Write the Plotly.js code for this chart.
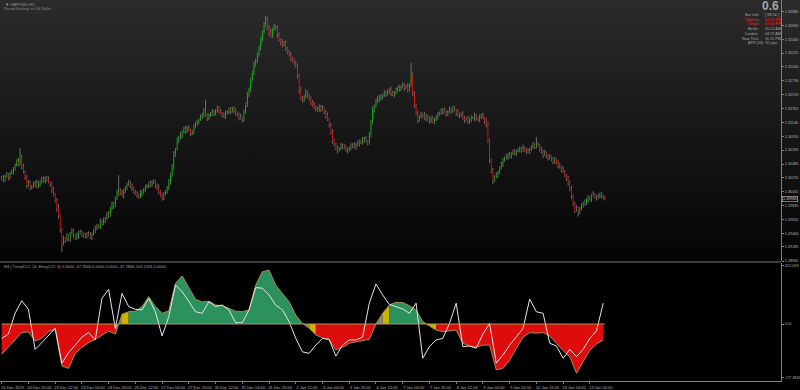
<!DOCTYPE html>
<html><head><meta charset="utf-8">
<script src="https://cdn.plot.ly/plotly-3.0.1.min.js"></script>
<style>html,body{margin:0;padding:0;background:#000;}#chart{width:800px;height:390px;}</style>
</head><body><div id="chart"></div>
<script>
// ---------- DATA ----------
const symbolTitle = '\u25BC GBPUSD,H1';
const symbolDesc = 'Pound Sterling vs US Dollar';
const indicatorTitle = 'H4 ( TrendCCI: 14, EntryCCI: 6) 0.0000 -47.7846 0.0000 0.0000 -47.7846 103.1533 0.0000';
const spreadText = '0.6';
const infoLabels = ['Bar Left:', '* Sydney:', '* Tokyo:', 'Berlin:', 'London:', 'New York:'];
const infoValues = ['[ 38:54 ]', '03:21 PM', '01:21 PM', '05:21 AM', '04:21 AM', '11:21 PM'];
const infoRed = [false, true, true, false, false, false];
const atrText = 'ATR (20): 32 pips';

const timeLabels = ['20 Dec 2019','20 Dec 20:00','23 Dec 12:00','24 Dec 04:00','24 Dec 20:00','26 Dec 12:00',
  '27 Dec 04:00','27 Dec 20:00','30 Dec 12:00','31 Dec 04:00','31 Dec 20:00','2 Jan 12:00','3 Jan 04:00',
  '3 Jan 20:00','6 Jan 12:00','7 Jan 04:00','7 Jan 20:00','8 Jan 12:00','9 Jan 04:00','9 Jan 20:00',
  '10 Jan 12:00','13 Jan 04:00','13 Jan 20:00'];
const barsPerLabel = 16;
const priceTickLabels = ['1.32880','1.32660','1.32440','1.32225','1.32010','1.31790','1.31570','1.31355',
  '1.31140','1.30920','1.30705','1.30485','1.30270','1.30050','1.29835','1.29620','1.29400','1.29185','1.28965'];
const cciTickLabels = ['202.5309', '0.00', '-277.3834'];

// H1 candles: close prices, first open, wick lengths in pips
const firstOpen = 1.3025;
const closes = [
1.3027,1.3024,1.3030,1.3031,1.3028,1.3034,1.3036,1.3041,1.3047,1.3052,
1.3049,1.3060,1.3045,1.3036,1.3028,1.3016,1.3019,1.3011,1.3014,1.3017,
1.3019,1.3013,1.3018,1.3021,1.3025,1.3022,1.3027,1.3024,1.3020,1.3017,
1.3008,1.3001,1.2992,1.2980,1.2968,1.2945,1.2924,1.2932,1.2929,1.2935,
1.2931,1.2940,1.2944,1.2937,1.2932,1.2936,1.2941,1.2942,1.2938,1.2935,
1.2936,1.2940,1.2937,1.2934,1.2939,1.2944,1.2948,1.2952,1.2950,1.2958,
1.2955,1.2961,1.2964,1.2970,1.2968,1.2980,1.2986,1.2983,1.2995,1.3002,
1.3008,1.3003,1.3000,1.3006,1.3012,1.3016,1.3019,1.3014,1.3011,1.3005,
1.3002,1.3000,1.2997,1.3003,1.3005,1.3009,1.3012,1.3014,1.3018,1.3016,
1.3019,1.3021,1.3015,1.3011,1.3006,1.2999,1.2995,1.3001,1.3006,1.3011,
1.3020,1.3031,1.3045,1.3063,1.3072,1.3086,1.3090,1.3094,1.3099,1.3103,
1.3100,1.3105,1.3102,1.3097,1.3099,1.3106,1.3111,1.3115,1.3118,1.3122,
1.3126,1.3131,1.3125,1.3121,1.3124,1.3128,1.3130,1.3127,1.3133,1.3136,
1.3131,1.3128,1.3126,1.3124,1.3128,1.3130,1.3134,1.3131,1.3136,1.3132,
1.3129,1.3126,1.3122,1.3120,1.3118,1.3130,1.3142,1.3157,1.3166,1.3180,
1.3192,1.3204,1.3212,1.3219,1.3231,1.3243,1.3255,1.3267,1.3274,1.3262,
1.3255,1.3250,1.3259,1.3264,1.3262,1.3252,1.3243,1.3239,1.3235,1.3238,
1.3230,1.3224,1.3219,1.3215,1.3211,1.3206,1.3203,1.3188,1.3165,1.3152,
1.3149,1.3153,1.3160,1.3157,1.3151,1.3146,1.3141,1.3138,1.3135,1.3133,
1.3138,1.3134,1.3136,1.3130,1.3125,1.3118,1.3110,1.3098,1.3086,1.3079,
1.3074,1.3070,1.3073,1.3076,1.3078,1.3074,1.3071,1.3070,1.3074,1.3077,
1.3078,1.3075,1.3079,1.3081,1.3084,1.3082,1.3086,1.3088,1.3084,1.3081,
1.3095,1.3115,1.3134,1.3140,1.3147,1.3152,1.3150,1.3155,1.3157,1.3160,
1.3158,1.3162,1.3165,1.3160,1.3157,1.3161,1.3164,1.3168,1.3166,1.3170,
1.3172,1.3168,1.3170,1.3165,1.3172,1.3188,1.3160,1.3141,1.3128,1.3118,
1.3122,1.3125,1.3126,1.3121,1.3124,1.3118,1.3116,1.3120,1.3115,1.3119,
1.3122,1.3126,1.3129,1.3131,1.3133,1.3130,1.3127,1.3130,1.3134,1.3132,
1.3136,1.3133,1.3129,1.3126,1.3124,1.3127,1.3121,1.3118,1.3120,1.3115,
1.3118,1.3121,1.3121,1.3124,1.3120,1.3118,1.3122,1.3124,1.3121,1.3116,
1.3110,1.3085,1.3055,1.3038,1.3023,1.3028,1.3031,1.3036,1.3042,1.3048,
1.3055,1.3058,1.3060,1.3063,1.3061,1.3065,1.3068,1.3066,1.3069,1.3070,
1.3072,1.3070,1.3074,1.3071,1.3069,1.3068,1.3072,1.3075,1.3078,1.3076,
1.3080,1.3078,1.3072,1.3068,1.3063,1.3066,1.3061,1.3058,1.3060,1.3056,
1.3052,1.3055,1.3050,1.3047,1.3044,1.3040,1.3036,1.3031,1.3026,1.3020,
1.3010,1.2999,1.2986,1.2976,1.2979,1.2973,1.2978,1.2984,1.2988,1.2986,
1.2992,1.2996,1.2994,1.2999,1.3001,1.2997,1.2995,1.2998,1.3002,1.2999,1.2996,1.29935];
const upperWickPips = [
3,4,2,5,3,2,4,3,2,4, 6,14,3,4,2,3,5,3,2,4, 3,5,4,2,3,4,2,3,5,2, 3,4,2,3,5,2,3,4,2,5,
3,2,4,3,2,5,3,4,2,3, 4,2,3,5,2,3,4,3,2,5, 3,4,2,3,5,2,4,3,2,6, 23,3,5,4,2,3,5,3,4,2,
3,4,2,5,3,2,4,3,2,5, 3,4,2,3,5,2,3,4,2,3, 5,4,3,6,2,4,3,5,2,4, 5,3,4,2,3,5,4,3,2,4,
3,5,18,3,4,2,5,3,2,4, 3,4,2,3,5,2,3,4,2,3, 4,2,3,5,2,4,3,5,2,4, 3,5,2,4,3,5,3,4,7,5,
4,6,3,5,2,4,3,2,5,3, 4,2,3,5,2,3,4,3,2,5, 3,4,6,3,2,4,3,5,2,3, 4,3,5,2,3,4,2,3,5,2,
3,4,2,5,3,2,4,3,2,4, 3,5,2,4,3,2,5,3,4,2, 4,3,5,2,4,3,5,3,2,4, 3,4,2,5,3,2,4,3,5,2,
4,3,2,5,3,19,4,3,2,4, 3,5,2,4,3,2,5,3,4,2, 3,4,2,5,3,4,2,3,5,2, 4,3,2,5,3,2,4,3,2,4,
3,4,2,5,3,2,4,3,5,2, 4,5,3,2,4,3,5,2,3,4, 3,2,4,3,5,2,3,4,2,3, 4,3,5,2,3,4,2,3,5,3,
11,3,2,4,3,5,2,3,4,2, 3,5,2,4,3,2,5,3,2,4, 3,4,2,3,5,2,4,3,2,5, 3,4,2,3,5,2,3,4,2,3,2,3];
const lowerWickPips = [
2,4,3,2,5,3,2,4,3,2, 4,3,5,2,4,6,3,4,2,3, 4,3,2,5,3,2,4,3,2,4, 5,3,4,6,5,4,13,3,4,2,
3,5,2,4,3,2,5,3,4,2, 3,4,2,3,5,2,4,3,2,4, 3,2,5,3,4,2,3,5,2,3, 4,3,2,5,3,4,2,3,5,3,
2,4,3,2,5,3,4,2,3,4, 3,2,4,3,5,2,4,3,2,4, 3,4,2,5,3,2,4,3,5,2, 4,3,2,5,3,4,2,3,4,2,
3,4,2,5,3,2,4,3,2,4, 3,2,4,3,5,2,3,4,2,3, 4,3,5,2,4,3,2,4,3,5, 2,4,3,5,2,4,3,2,4,3,
5,3,4,2,3,5,2,4,3,2, 4,3,2,5,3,2,4,5,6,3, 4,3,2,4,3,5,2,3,4,2, 3,4,2,3,5,2,4,3,6,3,
4,5,2,3,4,2,3,5,2,4, 3,2,4,3,5,2,3,4,2,3, 2,4,3,5,2,3,4,2,5,3, 4,2,3,5,2,4,3,2,4,3,
3,5,2,4,3,2,5,4,3,5, 3,2,4,3,5,2,4,3,2,4, 3,4,2,3,5,2,4,3,2,4, 3,2,5,3,4,2,3,5,2,4,
3,4,2,5,3,2,4,3,2,5, 4,3,5,4,6,3,2,4,3,2, 4,3,2,5,3,4,2,3,5,2, 3,4,2,3,5,2,4,3,2,4,
3,2,4,3,5,2,3,4,2,3, 4,3,2,5,3,4,2,3,4,5, 4,5,3,4,2,7,3,2,4,3, 2,4,3,5,2,3,4,2,3,4,3,2];

// H4 indicator values (one per 4 H1 bars)
const trendCCI = [
-99,-76,-50,-28,-26,-55,-47,-25,-17,-137,
-145,-96,-76,-61,-50,-36,-23,-33,32,40,
42,57,89,57,35,43,133,157,117,81,
72,75,62,60,51,42,40,46,127,171,
176,127,100,73,29,2,-14,-36,-45,-52,
-85,-76,-63,-58,-55,-50,0,35,62,71,
70,60,46,8,-7,-20,-25,-22,-20,-63,
-72,-76,-69,-69,-150,-145,-118,-79,-43,-28,
-30,-28,-39,-63,-87,-107,-161,-123,-85,-65,
-52];
const entryCCI = [
-47,-33,35,76,48,-83,-61,-36,-14,-128,
-94,-69,-43,-28,-52,84,113,-14,100,57,
48,46,84,40,-39,24,127,106,73,40,
35,73,57,62,46,4,4,46,119,117,
95,62,46,8,-47,-91,-96,-69,-47,-50,
-105,-69,-52,-52,-43,68,131,95,64,57,
49,35,68,-112,-74,-52,-47,2,68,-74,
-72,-79,-33,2,-128,-101,-69,-42,-14,81,
40,35,-63,-72,-112,-83,-107,-83,-47,-22,
68];
// histogram colour state runs: r = down trend, g = up trend, y = trend starting, n = neutral
const histStateRuns = [['r',17],['n',1],['y',1],['g',26],['n',1],['y',1],['r',9],['n',1],['y',1],['g',5],['y',2],['r',26]];
const barsPerH4 = 4;

// ---------- BUILD ----------
const PIP = 0.0001;
const n = closes.length;
const idx = closes.map((_, i) => i);
const opens = closes.map((c, i) => i === 0 ? firstOpen : closes[i - 1]);
const highs = closes.map((c, i) => Math.max(opens[i], c) + upperWickPips[i] * PIP);
const lows = closes.map((c, i) => Math.min(opens[i], c) - lowerWickPips[i] * PIP);

const wx = [], wy = [];
for (let i = 0; i < n; i++) {
  const top = Math.max(opens[i], closes[i]), bot = Math.min(opens[i], closes[i]);
  wx.push(i, i, null, i, i, null);
  wy.push(top, highs[i], null, lows[i], bot, null);
}

const traces = [];
traces.push({type: 'scatter', mode: 'lines', x: wx, y: wy, xaxis: 'x', yaxis: 'y',
  line: {color: '#6e6e6e', width: 1}, hoverinfo: 'skip', connectgaps: false});
traces.push({type: 'candlestick', x: idx, open: opens, high: highs, low: lows, close: closes,
  xaxis: 'x', yaxis: 'y', whiskerwidth: 0, hoverinfo: 'skip',
  increasing: {line: {color: '#00e000', width: 0}, fillcolor: '#00e000'},
  decreasing: {line: {color: '#ff1010', width: 0}, fillcolor: '#ff1010'}});

// histogram fill segments
const histState = [];
histStateRuns.forEach(([s, c]) => { for (let j = 0; j < c; j++) histState.push(s); });
const histColors = {
  g: {bg: '#35a86c', fg: '#1a6a40'},
  r: {bg: '#ff1414', fg: '#a00000'},
  y: {bg: '#f2d000', fg: '#8c7800'},
  n: {bg: '#9a9a9a', fg: '#555555'}
};
const h4x = trendCCI.map((_, k) => k * barsPerH4);
let a = 0;
for (let k = 1; k <= histState.length; k++) {
  if (k === histState.length || histState[k] !== histState[a]) {
    const end = Math.min(k, trendCCI.length - 1);
    const col = histColors[histState[a]];
    traces.push({type: 'scatter', mode: 'lines', x: h4x.slice(a, end + 1), y: trendCCI.slice(a, end + 1),
      xaxis: 'x', yaxis: 'y2', line: {width: 0, color: col.bg}, fill: 'tozeroy', fillcolor: col.bg,
      fillpattern: {shape: '|', bgcolor: col.bg, fgcolor: col.fg, size: 2, solidity: 0.35},
      hoverinfo: 'skip'});
    a = k;
  }
}
traces.push({type: 'scatter', mode: 'lines', x: h4x, y: trendCCI, xaxis: 'x', yaxis: 'y2',
  line: {color: '#a48c4e', width: 1}, hoverinfo: 'skip'});
traces.push({type: 'scatter', mode: 'lines', x: h4x, y: entryCCI, xaxis: 'x', yaxis: 'y2',
  line: {color: '#e6e6e6', width: 1}, hoverinfo: 'skip'});

// ---------- LAYOUT ----------
const PW = 781, PH = 381;             // plot area size in px
const px = x => x / PW, py = y => 1 - y / PH;
const axisGray = '#808080';
const labelColor = '#b4b4b4';
const fam = 'Liberation Sans, Arial, sans-serif';

const annotations = [];
const ann = (text, x, y, xanchor, opts) => annotations.push(Object.assign({
  text, x: px(x), y: py(y), xref: 'paper', yref: 'paper', xanchor, yanchor: 'middle',
  showarrow: false, font: {family: fam, size: 4, color: '#a8a8a8'}}, opts || {}));

ann(symbolTitle, 3, 4, 'left', {font: {family: fam, size: 4.2, color: '#9a9a9a'}});
ann(symbolDesc, 2, 8.5, 'left', {font: {family: fam, size: 3.8, color: '#8a8a8a'}});
ann(spreadText, 781, 6, 'right', {font: {family: fam, size: 12, color: '#a6a6a6', weight: 'bold'}});
const infoY = [15, 19.7, 24.3, 29, 33.7, 38.5];
infoLabels.forEach((t, j) => {
  const c = infoRed[j] ? '#ff2020' : '#a8a8a8';
  ann(t, 761, infoY[j], 'right', {font: {family: fam, size: 3.8, color: c}});
  ann(infoValues[j], 763, infoY[j], 'left', {font: {family: fam, size: 3.8, color: c}});
});
ann(atrText, 780, 43.3, 'right', {font: {family: fam, size: 3.8, color: '#a8a8a8'}});
ann(indicatorTitle, 2, 266.5, 'left', {font: {family: fam, size: 4, color: '#a0a0a0'}});
// current price box on axis
annotations.push({text: closes[n - 1].toFixed(5), x: 1, xref: 'paper', xanchor: 'left', xshift: 1,
  y: closes[n - 1], yref: 'y', yanchor: 'middle', showarrow: false,
  font: {family: fam, size: 3.8, color: '#e8e8e8'}, bgcolor: '#000', bordercolor: '#c8c8c8',
  borderwidth: 0.6, borderpad: 0.5});

const gradSvg = "<svg xmlns='http://www.w3.org/2000/svg' width='100' height='100' viewBox='0 0 100 100' preserveAspectRatio='none'>" +
  "<defs><linearGradient id='g' x1='0' y1='0' x2='0' y2='1'><stop offset='0' stop-color='#2b2b2b'/>" +
  "<stop offset='0.5' stop-color='#171717'/><stop offset='1' stop-color='#040404'/></linearGradient></defs>" +
  "<rect width='100' height='100' fill='url(#g)'/></svg>";

const layout = {
  width: 800, height: 390,
  margin: {l: 0, r: 19, t: 0, b: 9, pad: 0},
  paper_bgcolor: '#000', plot_bgcolor: 'rgba(0,0,0,0)',
  showlegend: false, hovermode: false, dragmode: false,
  font: {family: fam, size: 4, color: labelColor},
  images: [{source: 'data:image/svg+xml;charset=utf-8,' + encodeURIComponent(gradSvg),
    xref: 'paper', yref: 'paper', x: 0, y: 1, sizex: 800 / PW, sizey: 262 / PH,
    xanchor: 'left', yanchor: 'top', sizing: 'stretch', layer: 'below'}],
  xaxis: {anchor: 'y2', domain: [0, 1], range: [-1.02, 466.4], tickmode: 'array',
    tickvals: timeLabels.map((_, j) => j * barsPerLabel), ticktext: timeLabels,
    ticks: 'outside', ticklen: 2, tickwidth: 1, tickcolor: axisGray, showline: true, linecolor: axisGray,
    linewidth: 1, showgrid: false, zeroline: false, tickfont: {family: fam, size: 4, color: labelColor},
    ticklabelshift: 11, rangeslider: {visible: false}, fixedrange: true},
  yaxis: {domain: [1 - 261 / PH, 1], anchor: 'x', side: 'right', range: [1.28965, 1.33057],
    tickmode: 'array', tickvals: priceTickLabels.map(Number), ticktext: priceTickLabels,
    ticks: 'outside', ticklen: 2, tickcolor: axisGray, showline: true, linecolor: axisGray, linewidth: 1,
    showgrid: false, zeroline: false, tickfont: {family: fam, size: 3.8, color: labelColor}, fixedrange: true},
  yaxis2: {domain: [0, (PH - 263) / PH], anchor: 'x', side: 'right', range: [-186.3, 199.35],
    tickmode: 'array', tickvals: [190, 0, -175], ticktext: cciTickLabels,
    ticks: 'outside', ticklen: 2, tickcolor: axisGray, showline: true, linecolor: axisGray, linewidth: 1,
    showgrid: false, zeroline: false, tickfont: {family: fam, size: 3.4, color: labelColor}, fixedrange: true},
  shapes: [
    {type: 'line', xref: 'paper', yref: 'paper', x0: 0, x1: 1, y0: py(262), y1: py(262),
      line: {color: '#3a3a3a', width: 2}},
    {type: 'line', xref: 'x', yref: 'y2', x0: 0, x1: n - 1, y0: 0, y1: 0,
      line: {color: '#b39450', width: 1}, layer: 'above'}
  ],
  annotations
};

Plotly.newPlot('chart', traces, layout, {displayModeBar: false, staticPlot: true});
</script>
</body></html>
